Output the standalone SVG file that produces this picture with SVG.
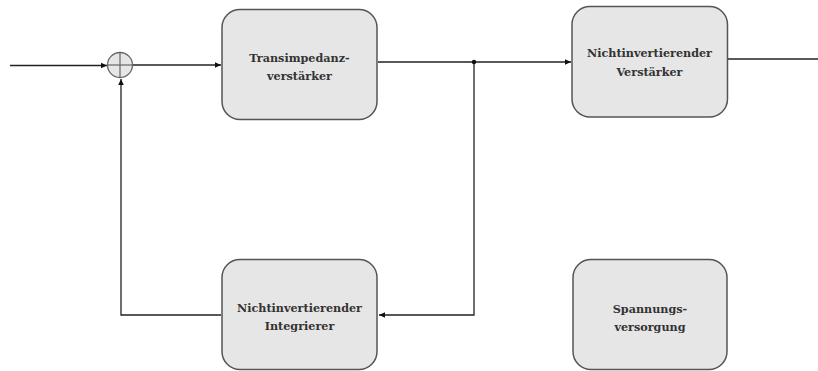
<svg xmlns="http://www.w3.org/2000/svg" width="818" height="371" viewBox="0 0 818 371">
<style>
.box{fill:#e6e6e6;stroke:#555;stroke-width:1.5}
.lbl{font-family:"DejaVu Serif",serif;font-size:11.2px;font-weight:bold;fill:#333;text-anchor:middle}
.wire{fill:none;stroke:#222;stroke-width:1.3}
</style>
<defs>
<marker id="arr" markerWidth="8" markerHeight="8" refX="6" refY="4" orient="auto" markerUnits="userSpaceOnUse">
<path d="M0,1.2 L6,4 L0,6.8 Z" fill="#111"/>
</marker>
</defs>
<g id="connectors">
<line class="wire" x1="10" y1="65.5" x2="107" y2="65.5" marker-end="url(#arr)"/>
<line class="wire" x1="133" y1="65" x2="221" y2="65" marker-end="url(#arr)"/>
<line class="wire" x1="378" y1="62" x2="571" y2="62" marker-end="url(#arr)"/>
<line class="wire" x1="728" y1="59" x2="818" y2="59"/>
<polyline class="wire" points="474,62 474,315 379,315" marker-end="url(#arr)"/>
<polyline class="wire" points="221,315 121,315 121,79" marker-end="url(#arr)"/>
<circle cx="474" cy="62" r="2.2" fill="#111"/>
</g>
<g id="sum">
<circle cx="120" cy="65" r="12.5" fill="#e6e6e6" stroke="#666" stroke-width="1.3"/>
<line x1="107.5" y1="65" x2="132.5" y2="65" stroke="#666" stroke-width="1.2"/>
<line x1="120" y1="52.5" x2="120" y2="77.5" stroke="#666" stroke-width="1.2"/>
</g>
<g id="transimpedanz">
<rect class="box" x="222" y="9.5" width="155" height="110" rx="18"/>
<text class="lbl" x="299.5" y="62">Transimpedanz-</text>
<text class="lbl" x="299.5" y="80">verstärker</text>
</g>
<g id="verstaerker">
<rect class="box" x="572" y="6.5" width="155.5" height="110.5" rx="18"/>
<text class="lbl" x="649.5" y="57">Nichtinvertierender</text>
<text class="lbl" x="649.5" y="76">Verstärker</text>
</g>
<g id="integrierer">
<rect class="box" x="222" y="259.5" width="155" height="110" rx="18"/>
<text class="lbl" x="299.5" y="312">Nichtinvertierender</text>
<text class="lbl" x="299.5" y="330">Integrierer</text>
</g>
<g id="spannung">
<rect class="box" x="573" y="259.5" width="154" height="110" rx="18"/>
<text class="lbl" x="650" y="313">Spannungs-</text>
<text class="lbl" x="650" y="331">versorgung</text>
</g>
</svg>
